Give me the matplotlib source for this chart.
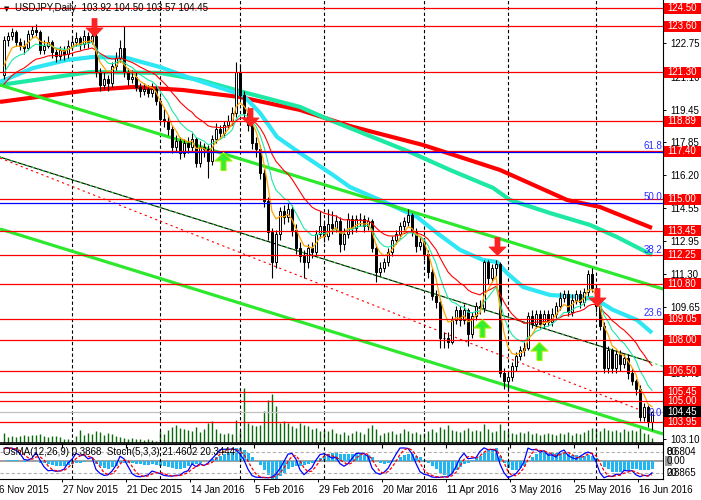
import numpy as np
import pandas as pd
import matplotlib
matplotlib.use("Agg")
import matplotlib.pyplot as plt
import matplotlib.transforms as mtransforms
from matplotlib.path import Path
from matplotlib.patches import Rectangle

plt.rcParams['font.family'] = ['Liberation Sans', 'DejaVu Sans']

# daily candles, open of each bar = previous close
first_open = 121.2
closes = [122.9, 123.1, 123.3, 122.8, 122.6, 122.5, 123.2, 123.4, 123.3, 122.4,
          122.6, 122.8, 122.3, 122.1, 122.4, 122.2, 122.6, 122.8, 123.0, 122.7,
          123.1, 122.8, 123.1, 121.3, 120.7, 121.0, 120.8, 121.6, 122.0, 122.5,
          121.3, 121.0, 121.1, 120.6, 120.4, 120.5, 120.3, 120.5, 119.9, 119.0,
          118.9, 118.5, 117.6, 117.9, 117.3, 117.8, 117.6, 118.0, 116.8, 117.6,
          117.5, 116.9, 118.0, 118.5, 118.3, 118.7, 118.9, 119.3, 121.3, 120.2,
          119.3, 118.7, 117.8, 117.5, 116.3, 114.9, 113.4, 111.9, 113.3, 114.4,
          114.1, 114.5, 113.5, 112.6, 112.2, 111.9, 112.6, 112.4, 113.3, 113.7,
          113.2, 113.8, 113.6, 113.9, 112.8, 113.3, 114.0, 113.6, 114.0, 114.0,
          113.7, 113.9, 112.6, 111.4, 111.6, 111.9, 112.4, 113.0, 113.3, 113.7,
          113.9, 114.2, 113.4, 112.7, 112.9, 112.3, 111.4, 110.2, 109.9, 108.1,
          108.1, 107.9, 109.0, 109.5, 109.0, 109.5, 108.3, 109.2, 109.7, 109.6,
          111.9, 111.1, 111.6, 111.8, 106.4, 106.0, 106.2, 106.7, 107.2, 107.5,
          107.6, 109.2, 108.8, 109.3, 108.8, 109.3, 108.9, 109.3, 109.7, 110.1,
          110.3, 109.4, 110.0, 110.3, 109.9, 110.4, 111.3, 110.6, 109.7, 108.7,
          106.6, 107.5, 106.6, 107.3, 106.8, 107.1, 106.4, 106.0, 105.6, 104.2,
          104.7, 103.92, 104.45]
highs = [123.1, 123.3, 123.5, 123.4, 123.0, 122.9, 123.4, 123.6, 123.7, 123.4,
         122.9, 123.1, 122.9, 122.5, 122.6, 122.6, 122.9, 123.1, 123.3, 123.1,
         123.4, 123.3, 123.3, 123.2, 121.5, 121.3, 121.2, 121.8, 122.3, 122.9,
         123.6, 121.5, 121.4, 121.3, 120.8, 120.8, 120.7, 120.8, 120.7, 120.1,
         119.5, 119.2, 118.7, 118.2, 118.1, 118.0, 118.1, 118.3, 118.1, 117.9,
         117.8, 117.7, 118.2, 118.8, 118.7, 118.9, 119.2, 119.6, 121.8, 121.7,
         120.4, 119.6, 118.9, 118.1, 117.7, 116.5, 115.1, 113.6, 113.5, 114.6,
         114.7, 114.8, 114.7, 113.8, 112.9, 112.5, 112.8, 112.9, 113.5, 114.4,
         113.9, 114.5, 114.4, 114.2, 114.1, 113.6, 114.3, 114.2, 114.2, 114.3,
         114.2, 114.1, 114.0, 112.8, 111.9, 112.1, 112.6, 113.2, 113.5, 113.9,
         114.1, 114.5, 114.3, 113.6, 113.2, 113.1, 112.5, 111.6, 110.5, 110.1,
         108.4, 108.4, 109.2, 109.7, 109.7, 109.8, 109.6, 109.4, 109.9, 110.0,
         112.0, 112.0, 111.8, 112.0, 111.9, 106.6, 106.4, 106.9, 107.4, 107.7,
         107.9, 109.4, 109.5, 109.5, 109.5, 109.5, 109.5, 109.6, 109.9, 110.4,
         110.5, 110.5, 110.3, 110.5, 110.5, 110.6, 111.5, 111.6, 110.8, 109.9,
         108.9, 107.7, 107.6, 107.5, 107.5, 107.3, 107.3, 106.6, 106.1, 105.8,
         104.9, 104.8, 104.50]
lows = [121.0, 122.6, 122.9, 122.6, 122.4, 122.2, 122.4, 123.0, 123.1, 122.2,
        122.2, 122.5, 122.0, 121.8, 121.9, 121.9, 122.0, 122.4, 122.6, 122.4,
        122.5, 122.5, 122.7, 121.1, 120.4, 120.5, 120.4, 120.6, 121.4, 121.8,
        121.1, 120.7, 120.8, 120.4, 120.1, 120.2, 120.1, 120.1, 119.7, 118.8,
        118.6, 118.2, 117.3, 117.4, 117.0, 117.1, 117.3, 117.4, 116.6, 116.6,
        117.1, 116.05, 116.7, 117.8, 118.0, 118.1, 118.5, 118.7, 119.1, 120.0,
        119.0, 118.4, 117.5, 117.1, 116.0, 114.6, 113.0, 111.1, 111.6, 113.0,
        113.8, 113.9, 113.2, 112.3, 111.9, 111.1, 111.6, 112.1, 112.2, 113.1,
        112.9, 113.0, 113.3, 113.4, 112.4, 112.5, 113.1, 113.3, 113.4, 113.7,
        113.4, 113.5, 112.4, 110.9, 111.2, 111.4, 111.7, 112.2, 112.8, 113.1,
        113.5, 113.7, 113.2, 112.4, 112.5, 112.0, 111.1, 110.0, 109.6, 107.6,
        107.6, 107.6, 107.8, 108.8, 108.7, 108.8, 107.7, 108.1, 109.0, 109.3,
        109.4, 110.8, 110.9, 111.2, 106.2, 105.6, 105.5, 106.0, 106.5, 107.0,
        107.2, 107.5, 108.6, 108.6, 108.6, 108.6, 108.7, 108.7, 109.1, 109.5,
        109.9, 109.2, 109.2, 109.8, 109.6, 109.7, 110.2, 110.4, 109.4, 108.5,
        106.4, 106.4, 106.4, 106.4, 106.5, 106.6, 106.1, 105.8, 105.3, 104.0,
        104.0, 103.7, 103.57]
volumes = [10, 6, 7, 6, 7, 8, 7, 8, 8, 9, 7, 6, 7, 7, 6, 4, 4, 3, 7, 13,
           8, 10, 9, 12, 11, 8, 10, 9, 7, 6, 5, 4, 5, 4, 4, 3, 4, 3, 2, 12,
           9, 13, 16, 18, 15, 14, 13, 12, 16, 11, 14, 20, 22, 14, 10, 9, 10, 9, 23, 12,
           55, 20, 18, 17, 18, 32, 43, 49, 37, 20, 22, 20, 17, 15, 20, 18, 17, 14, 15, 12,
           13, 12, 14, 10, 9, 11, 8, 10, 12, 11, 9, 15, 18, 14, 8, 10, 11, 12, 9, 10,
           14, 12, 10, 11, 9, 10, 12, 14, 11, 16, 14, 18, 13, 12, 11, 13, 15, 12, 13, 12,
           19, 14, 11, 12, 19, 13, 12, 10, 9, 11, 10, 12, 9, 10, 8, 9, 10, 9, 8, 10,
           9, 11, 8, 10, 9, 11, 13, 15, 14, 12, 15, 13, 12, 13, 11, 14, 12, 13, 12, 15,
           10, 9, 5]

# moving averages on the chart (periods guessed, start values read at left edge)
fast_period, mid_period, slow_period = 5, 10, 21
fast_start, mid_start, slow_start = 121.0, 120.9, 120.5
macd_start_fast, macd_start_slow = 121.6, 121.0

# long averages, read as (bar, price) vertices
cyan_bars = [-1, 7.25, 15.75, 22.25, 30.75, 39, 45.75, 55.75, 59.75, 64, 68.25, 74, 82.25,
             86.5, 94, 103.25, 108.25, 114, 119.75, 123.25, 125.75, 129.75, 136.5,
             144.75, 148.25, 152.25, 158.25, 162]
cyan_prices = [120.83, 121.52, 121.92, 122.07, 122.02, 121.57, 121.08, 120.43, 120.18,
               119.29, 118.10, 117.30, 116.21, 115.61, 114.97, 114.13, 113.33, 112.49,
               111.99, 111.89, 111.34, 110.65, 110.25, 110.15, 110.00, 109.51, 109.01, 108.37]
spring_bars = [-1, 21.5, 39, 49, 59.75, 74, 81.5, 86.5, 101.5, 111.5, 122.25, 126.5,
               136.5, 146.5, 153.25, 162]
spring_prices = [120.68, 121.32, 121.28, 120.93, 120.33, 119.59, 118.94, 118.54, 117.35,
                 116.46, 115.57, 114.97, 114.32, 113.73, 113.13, 112.24]
ma200_bars = [-1, 21.5, 32.25, 44.75, 59, 74, 86.5, 104.75, 124, 140.75, 149, 162]
ma200_prices = [119.84, 120.43, 120.58, 120.43, 120.08, 119.44, 118.64, 117.70, 116.46,
                114.97, 114.62, 113.58]

# trend lines (bar, price) end points
channel_upper = [(-1, 120.68), (164.75, 110.55)]
channel_lower = [(-1, 113.53), (164.75, 103.35)]
mid_line = [(-1, 117.10), (161.5, 106.93)]
mid_line_ext = [(161.5, 106.93), (164.75, 106.70)]
red_dotted = [(-1, 117.05), (159, 104.54)]

red_levels = [124.50, 123.60, 121.30, 118.89, 117.40, 115.00, 113.45, 112.25,
              110.80, 109.05, 108.00, 106.50, 105.45, 105.00, 103.95]
blue_levels = [117.34, 114.80]
bid = 104.45
price_ticks = [124.40, 122.75, 121.10, 119.45, 117.85, 116.20, 114.55, 112.95,
               111.30, 109.65, 108.00, 106.40, 104.75, 103.10]
fib_names = ["61.8", "50.0", "38.2", "23.6", "0.0"]
fib_prices = [117.63, 115.12, 112.49, 109.36, 104.39]

grid_bars = [17, 39, 59, 80, 105, 126, 148]
date_bars = [-1.5, 14.5, 30.5, 46.5, 62.5, 78.5, 94.5, 110.5, 126.5, 142.5, 158.5]
date_labels = ["6 Nov 2015", "27 Nov 2015", "21 Dec 2015", "14 Jan 2016", "5 Feb 2016",
               "29 Feb 2016", "20 Mar 2016", "11 Apr 2016", "3 May 2016",
               "25 May 2016", "16 Jun 2016"]

down_bars = [22.5, 61.5, 123.25, 148.25]
down_prices = [123.56, 119.09, 112.69, 110.15]
up_bars = [54.75, 119.5, 133.75]
up_prices = [116.9, 108.61, 107.47]

header = "USDJPY,Daily  103.92 104.50 103.57 104.45"
ind_header = "OsMA(12,26,9) 0.3868  Stoch(5,3,3) 21.4602 20.3444"


def ema(values, period, start):
    k = 2.0 / (period + 1)
    out = []
    prev = start
    for v in values:
        prev = prev + k * (v - prev)
        out.append(prev)
    return np.array(out)


closes_a = np.array(closes)
opens_a = np.array([first_open] + closes[:-1])
highs_a = np.array(highs)
lows_a = np.array(lows)
idx = np.arange(len(closes))

fig = plt.figure(figsize=(7.01, 5.0), dpi=100)
fig.patch.set_facecolor('white')
W, H = 701.0, 500.0
main_rect = [0, 1 - 443 / H, 663 / W, 443 / H]
ind_rect = [0, 1 - 479 / H, 663 / W, 35 / H]

ax = fig.add_axes(main_rect)
vax = ax.twinx()
ax.set_zorder(2)
vax.set_zorder(1)
ax.patch.set_visible(False)

xlim = (-1, 164.75)
ax.set_xlim(*xlim)
ax.set_ylim(102.90, 124.90)
vax.set_ylim(0, 443)
vax.axis('off')

# volume
vax.vlines(idx, 0, volumes, color='#0b6b0b', lw=1.0)

# grid
for g in grid_bars:
    ax.axvline(g, color='black', lw=0.8, dashes=(3, 2.2), zorder=1)

# long MAs
ax.plot(ma200_bars, ma200_prices, color='#ff0000', lw=3.0, zorder=2, solid_capstyle='butt')
ax.plot(spring_bars, spring_prices, color='#1de8a4', lw=3.0, zorder=2.1, solid_capstyle='butt')
ax.plot(cyan_bars, cyan_prices, color='#2ee6f4', lw=3.0, zorder=2.2, solid_capstyle='butt')

# channel lines
for line in (channel_upper, channel_lower):
    xs, ys = zip(*line)
    ax.plot(xs, ys, color='#2ee82e', lw=2.3, zorder=2.3, solid_capstyle='butt')
xs, ys = zip(*mid_line)
ax.plot(xs, ys, color='black', lw=0.8, zorder=2.3)
ax.plot(xs, ys, color='#22dd22', lw=0.8, dashes=(2, 3), zorder=2.4)
xs, ys = zip(*mid_line_ext)
ax.plot(xs, ys, color='#22dd22', lw=0.8, dashes=(2, 3), zorder=2.4)
xs, ys = zip(*red_dotted)
ax.plot(xs, ys, color='#ff0000', lw=0.8, dashes=(2, 3), zorder=2.3)

# candles
ax.vlines(idx, lows_a, highs_a, color='black', lw=0.8, zorder=3)
body_low = np.minimum(opens_a, closes_a)
body_h = np.maximum(np.abs(closes_a - opens_a), 0.02)
body_col = np.where(closes_a >= opens_a, 'white', 'black')
ax.bar(idx, body_h, bottom=body_low, width=0.55, color=body_col,
       edgecolor='black', linewidth=0.7, zorder=3.1)

# short MAs
ax.plot(idx, ema(closes, slow_period, slow_start), color='#ff0000', lw=0.8, zorder=3.5)
ax.plot(idx, ema(closes, mid_period, mid_start), color='#1de8a4', lw=0.8, zorder=3.6)
ax.plot(idx, ema(closes, fast_period, fast_start), color='#ffa500', lw=0.9, zorder=3.7)

# horizontal levels
for lv in red_levels:
    ax.axhline(lv, color='#ff0000', lw=0.9, zorder=4)
for lv in blue_levels:
    ax.axhline(lv, color='#0000ff', lw=0.9, zorder=4)
ax.axhline(bid, color='#c0c0c0', lw=0.9, zorder=1.5)

for name, p in zip(fib_names, fib_prices):
    ax.text(164.5, p, name, color='#2a2aff', fontsize=7, ha='right', va='center', zorder=6)

# arrows
down_arrow = Path([(-0.28, 1), (0.28, 1), (0.28, -0.05), (0.95, -0.05), (0, -1),
                   (-0.95, -0.05), (-0.28, -0.05), (-0.28, 1)])
up_arrow = Path([(x, -y) for x, y in down_arrow.vertices])
ax.plot(down_bars, down_prices, ls='none', marker=down_arrow, ms=13,
        mfc='#ff2222', mec='#ff2222', mew=0.5, zorder=5)
ax.plot(up_bars, up_prices, ls='none', marker=up_arrow, ms=13,
        mfc='#33ee33', mec='#a8f000', mew=0.8, zorder=5)

# price axis
ax.yaxis.tick_right()
ax.set_yticks(price_ticks)
ax.set_yticklabels(['%.2f' % t for t in price_ticks])
ax.tick_params(axis='y', length=2.2, width=0.7, pad=3, labelsize=7, direction='out')
ax.set_xticks([])
for s in ('top', 'left'):
    ax.spines[s].set_visible(False)
ax.spines['right'].set_linewidth(0.8)
ax.spines['bottom'].set_linewidth(1.2)

lab_tr = mtransforms.blended_transform_factory(ax.transAxes, ax.transData)
x0_box, x1_box = 664 / 663.0, 702 / 663.0
box_h = 11 / 20.14
for lv in red_levels + [bid]:
    col = 'black' if lv == bid else '#ff0000'
    ax.add_patch(Rectangle((x0_box, lv - box_h / 2), x1_box - x0_box, box_h,
                           transform=lab_tr, facecolor=col, edgecolor='none',
                           clip_on=False, zorder=7))
    ax.text(667 / 663.0, lv, '%.2f' % lv, transform=lab_tr, color='white',
            fontsize=7, va='center', ha='left', clip_on=False, zorder=8)

ax.text(4 / 663.0, 1 - 9 / 443.0, u'\u25bc', transform=ax.transAxes, fontsize=5,
        va='center', ha='left', family=['DejaVu Sans'])
ax.text(15 / 663.0, 1 - 8 / 443.0, header, transform=ax.transAxes, fontsize=7,
        va='center', ha='left', zorder=8)

# indicator window
ind = fig.add_axes(ind_rect, sharex=ax)
oax = ind.twinx()
ind.set_zorder(2)
oax.set_zorder(1)
ind.patch.set_visible(False)
ind.set_ylim(3, 103)
oax.set_ylim(-0.82, 0.77)
oax.axis('off')

macd = ema(closes, 12, macd_start_fast) - ema(closes, 26, macd_start_slow)
signal = pd.Series(macd).rolling(9, min_periods=1).mean().values
osma = macd - signal
oax.bar(idx, osma, width=0.75, color='#20b6f2', edgecolor='none')
oax.axhline(0, color='#a0a0a0', lw=1.4, zorder=0.5)

cl = pd.Series(closes_a)
lo5 = pd.Series(lows_a).rolling(5, min_periods=1).min()
hi5 = pd.Series(highs_a).rolling(5, min_periods=1).max()
k_line = 100 * (cl - lo5).rolling(3, min_periods=1).sum() / (hi5 - lo5).rolling(3, min_periods=1).sum()
d_line = k_line.rolling(3, min_periods=1).mean()
for lv in (80, 20):
    ind.axhline(lv, color='#b0b0b0', lw=0.8, dashes=(3, 2))
ind.plot(idx, k_line, color='#0000ff', lw=0.9)
ind.plot(idx, d_line, color='#ff0000', lw=0.9, dashes=(2.5, 1.5))
for g in grid_bars:
    ind.axvline(g, color='black', lw=0.8, dashes=(3, 2.2), zorder=1)

ind_tr = mtransforms.blended_transform_factory(ind.transAxes, ind.transData)
ind.text(3 / 663.0, 80, ind_header, transform=ind_tr,
         fontsize=7, va='center', ha='left', zorder=6)

zero_y = 54.3
ind.add_patch(Rectangle((665 / 663.0, zero_y - 14), 7 / 663.0, 28, transform=ind_tr,
                        facecolor='#a0a0a0', edgecolor='none', clip_on=False))
for txt, y in (("80", 80), ("0.6804", 80), ("0.00", zero_y), ("20", 20), ("0.8865", 20)):
    ind.text(667 / 663.0, y, txt, transform=ind_tr, fontsize=7, va='center',
             ha='left', clip_on=False)

ind.set_yticks([])
ind.spines['left'].set_visible(False)
for s in ('top', 'bottom', 'right'):
    ind.spines[s].set_linewidth(0.8)
ind.set_xticks(date_bars[1:])
ind.set_xticklabels([])
ind.tick_params(axis='x', length=2.5, width=0.7, direction='out')
date_tr = mtransforms.blended_transform_factory(ind.transData, ind.transAxes)
for b, lab in zip(date_bars, date_labels):
    ind.text(b + 0.3, -0.32, lab, transform=date_tr, fontsize=7, va='center',
             ha='left', clip_on=False)
ind.set_xlim(*xlim)

fig.savefig('out.png', dpi=100, facecolor='white')
